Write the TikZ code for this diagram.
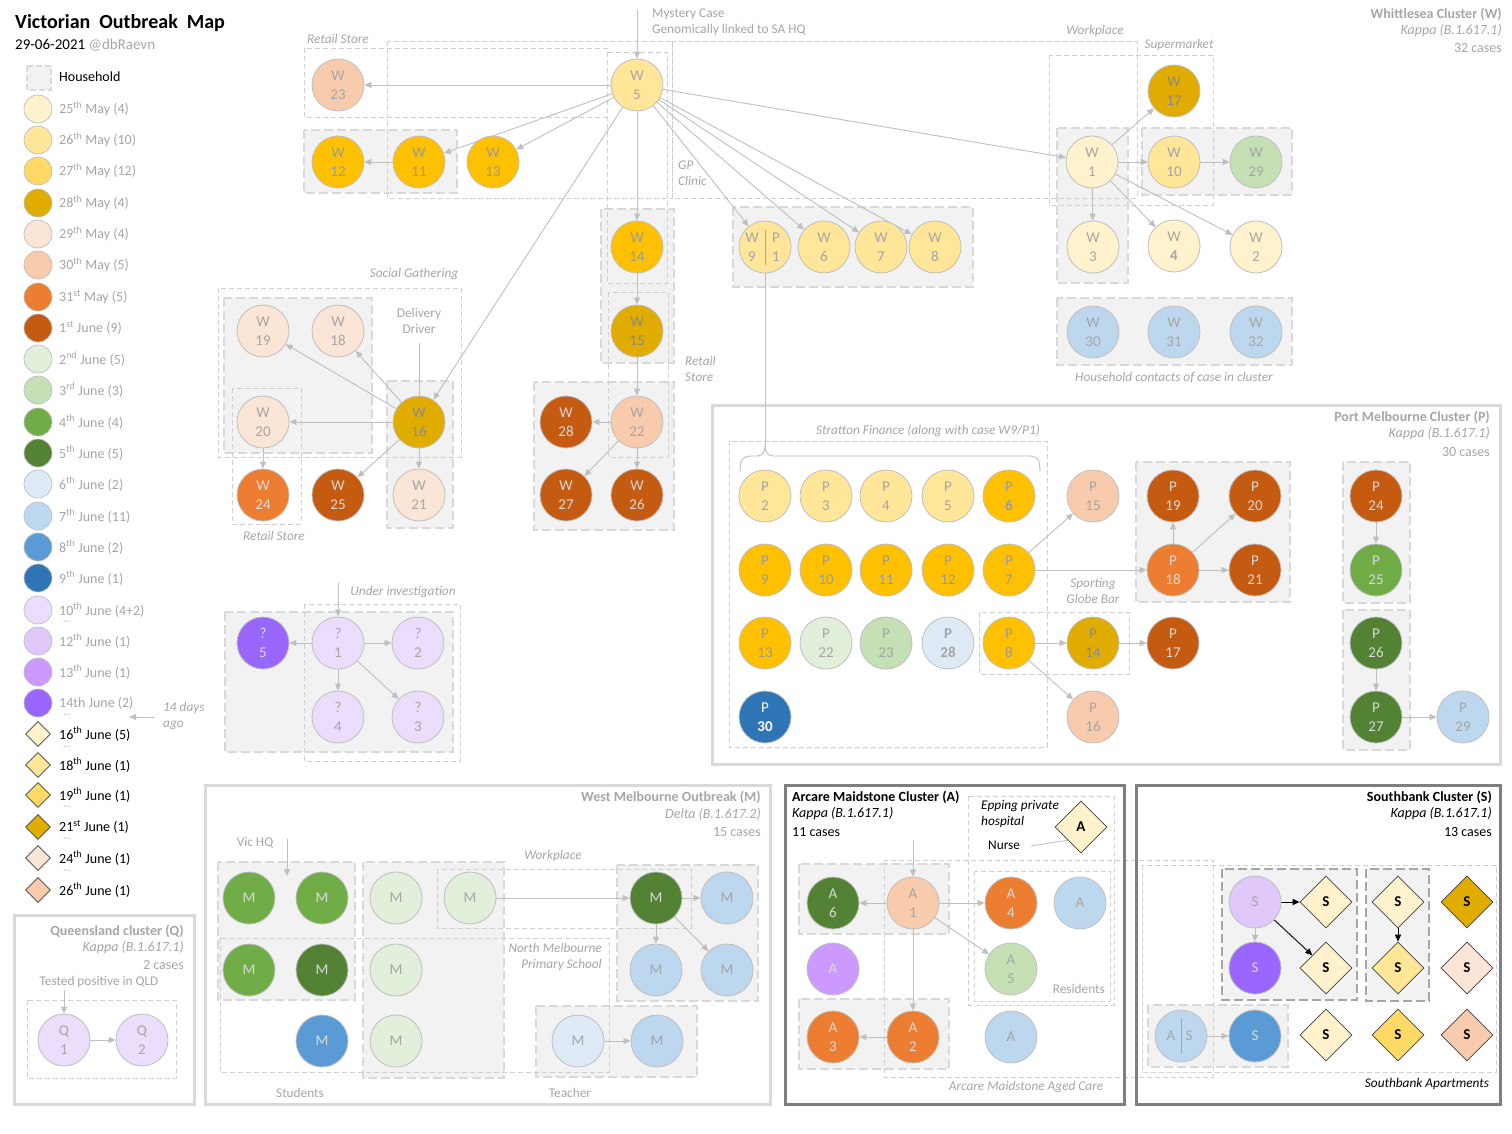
\documentclass[tikz,border=0pt]{standalone}
\usepackage{fontspec}
\setmainfont{Carlito}
\usetikzlibrary{arrows.meta,shapes.geometric}
\pgfdeclarelayer{bg}
\pgfdeclarelayer{ed}
\pgfsetlayers{bg,ed,main}
\definecolor{c25}{HTML}{FFF2CC}
\definecolor{c26}{HTML}{FFE699}
\definecolor{c27}{HTML}{FFD966}
\definecolor{c27b}{HTML}{FFC000}
\definecolor{c28}{HTML}{E0AC00}
\definecolor{c29}{HTML}{FBE5D6}
\definecolor{c30}{HTML}{F8CBAD}
\definecolor{c31}{HTML}{ED7D31}
\definecolor{j1}{HTML}{C55A11}
\definecolor{j2}{HTML}{E2EFDA}
\definecolor{j3}{HTML}{C5E0B4}
\definecolor{j4}{HTML}{70AD47}
\definecolor{j5}{HTML}{548235}
\definecolor{j6}{HTML}{DEEBF7}
\definecolor{j7}{HTML}{BDD7EE}
\definecolor{j8}{HTML}{5B9BD5}
\definecolor{j9}{HTML}{2E75B6}
\definecolor{j10}{HTML}{EBDDFC}
\definecolor{j12}{HTML}{E0C8FA}
\definecolor{j13}{HTML}{CC99FF}
\definecolor{j14}{HTML}{9966FF}
\definecolor{bdr}{HTML}{BFBFBF}
\definecolor{txt}{HTML}{A6A6A6}
\definecolor{txtg}{HTML}{9A9A9A}
\definecolor{txtd}{HTML}{8A8A8A}
\definecolor{hh}{HTML}{F2F2F2}
\definecolor{hhb}{HTML}{D9D9D9}
\definecolor{dsh}{HTML}{D0D0D0}
\definecolor{lab}{HTML}{A6A6A6}
\definecolor{darkb}{HTML}{7F7F7F}
\newcommand\myNF{\fontsize{15}{19}\selectfont}
\newcommand\myLF{\fontsize{13.3}{16.5}\selectfont}
\newcommand\myGF{\fontsize{14}{17}\selectfont}
\newcommand\myTF{\fontsize{14}{17}\selectfont}
\tikzset{
 cs/.style={circle,draw=bdr,line width=0.8pt,minimum size=52pt,inner sep=0pt,align=center,font=\myNF,text=txt},
 dk/.style={text=hhb},
 gd/.style={text=txtg},
 gdd/.style={text=txtd},
 dm/.style={diamond,draw=black!75,line width=0.7pt,minimum width=52pt,minimum height=52pt,inner sep=0pt,font=\myNF\bfseries,text=black},
 arr/.style={draw=bdr,line width=0.9pt,-{Triangle[width=6pt,length=7pt]}},
 barr/.style={draw=black,line width=0.9pt,-{Triangle[width=6pt,length=7pt]}},
 pln/.style={draw=bdr,line width=0.9pt},
 hbox/.style={fill=hh,draw=hhb,line width=2.5pt,dash pattern=on 9pt off 4pt},
 kbox2/.style={fill=hh,draw=txt,line width=2.5pt,dash pattern=on 9pt off 4pt},
 dbox/.style={draw=dsh,line width=0.8pt,dash pattern=on 5pt off 3pt},
 lbl/.style={font=\myLF\itshape,text=lab,inner sep=0pt},
 ulbl/.style={font=\myLF,text=lab,inner sep=0pt},
 cbox/.style={draw=hhb,line width=3pt},
 kbox/.style={draw=darkb,line width=3pt},
 lgc/.style={circle,draw=bdr,line width=0.7pt,minimum size=28pt,inner sep=0pt},
 lgd/.style={diamond,draw=black!75,line width=0.7pt,minimum width=25pt,minimum height=25pt,inner sep=0pt},
 lgt/.style={font=\myGF,text=lab,anchor=west,inner sep=0pt},
 ctit/.style={font=\myTF\bfseries,text=lab,inner sep=0pt},
 csub/.style={font=\myTF\itshape,text=lab,inner sep=0pt},
 ccas/.style={font=\myTF,text=lab,inner sep=0pt},
 dots/.style={font=\fontsize{10}{10}\selectfont,text=bdr,inner sep=0pt},
}
\begin{document}
\begin{tikzpicture}[x=1pt,y=-1pt]
\useasboundingbox (0,0) rectangle (1512,1134);

% ================= BACKGROUND BOXES =================
\begin{pgfonlayer}{bg}
\fill[white] (0,0) rectangle (1512,1134);
% household (filled) boxes
\draw[hbox] (304,130) rectangle (457,193);
\draw[hbox] (733,207) rectangle (973,287);
\draw[hbox] (1057,128) rectangle (1128,283);
\draw[hbox] (1142,128) rectangle (1292,195);
\draw[hbox] (1057,298) rectangle (1292,365);
\draw[hbox] (601,209) rectangle (674,363);
\draw[hbox] (534,382) rectangle (674,530);
\draw[hbox] (224,298) rectangle (372,453);
\draw[hbox] (387,381) rectangle (453,528);
\draw[hbox] (225,612) rectangle (453,752);
\draw[hbox] (1136,462) rectangle (1290,602);
\draw[hbox] (1343,462) rectangle (1410,603);
\draw[hbox] (1343,610) rectangle (1410,750);
\draw[hbox] (218,862) rectangle (355,1000);
\draw[hbox] (363,862) rectangle (504,1078);
\draw[hbox] (617,865) rectangle (758,1001);
\draw[hbox] (536,1006) rectangle (697,1077);
\draw[hbox] (799,864) rectangle (949,934);
\draw[hbox] (799,999) rectangle (949,1069);
\draw[hbox] (1148,1005) rectangle (1288,1067);
\draw[kbox2] (1222,869) rectangle (1357,1000);
\draw[kbox2] (1366,869) rectangle (1429,1001);
\draw[hbox,line width=2pt,dash pattern=on 6pt off 3pt] (27,66) rectangle (51,90);
% thin dashed boxes
\draw[dbox] (304,48) rectangle (607,117);
\draw[dbox] (387,41) rectangle (672,198);
\draw[dbox] (672,41) rectangle (1137,198);
\draw[dbox] (607,52) rectangle (667,283);
\draw[dbox] (1049,55) rectangle (1213,205);
\draw[dbox] (608,292) rectangle (668,457);
\draw[dbox] (218,288) rectangle (461,457);
\draw[dbox] (232,388) rectangle (301,524);
\draw[dbox] (304,604) rectangle (460,761);
\draw[dbox] (729,441) rectangle (1047,747);
\draw[dbox] (979,612) rectangle (1129,674);
\draw[dbox] (437,869) rectangle (691,928);
\draw[dbox] (220,938) rectangle (609,1072);
\draw[dbox] (968,796) rectangle (1114,1005);
\draw[dbox] (974,871) rectangle (1110,1001);
\draw[dbox] (884,860) rectangle (1213,1077);
\draw[dbox] (1142,865) rectangle (1496,1072);
\draw[dbox] (27,1000) rectangle (176,1078);
% cluster borders
\draw[cbox] (712,405) rectangle (1500,764);
\draw[cbox] (205,785) rectangle (770,1104);
\draw[cbox] (14,915) rectangle (194,1104);
\draw[kbox] (785,785) rectangle (1124,1104);
\draw[kbox] (1136,785) rectangle (1500,1104);
\end{pgfonlayer}

% ================= LEGEND =================
\node[anchor=west,inner sep=0pt,font=\fontsize{20}{24}\selectfont\bfseries] (title) at (15,23) {Victorian\ \ Outbreak\ \ Map};
\node[anchor=west,inner sep=0pt,font=\fontsize{15}{18}\selectfont] (date) at (15,45) {29-06-2021 \textcolor{lab}{@dbRaevn}};
\node[lgt,text=black] (hhl) at (59,77) {Household};
\foreach \myy/\myc/\myt in {
109/c25/{25\textsuperscript{th} May (4)},
140/c26/{26\textsuperscript{th} May (10)},
171/c27/{27\textsuperscript{th} May (12)},
203/c28/{28\textsuperscript{th} May (4)},
234/c29/{29\textsuperscript{th} May (4)},
265/c30/{30\textsuperscript{th} May (5)},
297/c31/{31\textsuperscript{st} May (5)},
328/j1/{1\textsuperscript{st} June (9)},
359/j2/{2\textsuperscript{nd} June (5)},
390/j3/{3\textsuperscript{rd} June (3)},
422/j4/{4\textsuperscript{th} June (4)},
453/j5/{5\textsuperscript{th} June (5)},
484/j6/{6\textsuperscript{th} June (2)},
516/j7/{7\textsuperscript{th} June (11)},
547/j8/{8\textsuperscript{th} June (2)},
578/j9/{9\textsuperscript{th} June (1)},
610/j10/{10\textsuperscript{th} June (4+2)},
641/j12/{12\textsuperscript{th} June (1)},
672/j13/{13\textsuperscript{th} June (1)},
703/j14/{14th June (2)}}
{\node[lgc,fill=\myc] (lc\myy) at (38,\myy) {}; \node[lgt] (lt\myy) at (59,\myy) {\myt};}
\foreach \myy/\myc/\myt in {
734/c25/{16\textsuperscript{th} June (5)},
765/c26/{18\textsuperscript{th} June (1)},
795/c27/{19\textsuperscript{th} June (1)},
827/c28/{21\textsuperscript{st} June (1)},
858/c29/{24\textsuperscript{th} June (1)},
890/c30/{26\textsuperscript{th} June (1)}}
{\node[lgd,fill=\myc] (ld\myy) at (38,\myy) {}; \node[lgt,text=black] (ldt\myy) at (59,\myy) {\myt};}
\foreach \myy in {623,716,748,808,840,872}
{\node[dots] (dt\myy) at (67,\myy) {···};}
\node[lbl,anchor=west,align=left] (days) at (163,716) {14 days\\ago};
\coordinate (da) at (155,717);
\coordinate (db) at (129,717);
\draw[arr] (da) -- (db);

% ================= WHITTLESEA =================
\node[ctit,anchor=east] (wt1) at (1502,14) {Whittlesea Cluster (W)};
\node[csub,anchor=east] (wt2) at (1502,31) {Kappa (B.1.617.1)};
\node[ccas,anchor=east] (wt3) at (1502,48) {32 cases};

\node[cs,fill=c30] (w23) at (338,85) {W\\23};
\node[cs,fill=c26] (w5) at (637,85) {W\\5};
\node[cs,fill=c27b,gd] (w12) at (338,162) {W\\12};
\node[cs,fill=c27b,gd] (w11) at (419,162) {W\\11};
\node[cs,fill=c27b,gd] (w13) at (493,162) {W\\13};
\node[cs,fill=c27b,gd] (w14) at (637,247) {W\\14};
\node[cs,fill=c28,gdd] (w15) at (637,331) {W\\15};
\node[cs,fill=c30] (w22) at (637,422) {W\\22};
\node[cs,fill=j1,dk] (w28) at (566,422) {W\\28};
\node[cs,fill=j1,dk] (w27) at (566,495) {W\\27};
\node[cs,fill=j1,dk] (w26) at (637,495) {W\\26};
\node[cs,fill=c26] (w9) at (765,247) {};
\node[font=\myNF,text=txt,align=center,inner sep=0pt] (w9a) at (752,247) {W\\9};
\node[font=\myNF,text=txt,align=center,inner sep=0pt] (w9b) at (776,247) {P\\1};
\draw[draw=txt,line width=0.8pt] (765,230) -- (765,265);
\node[cs,fill=c26] (w6) at (824,247) {W\\6};
\node[cs,fill=c26] (w7) at (881,247) {W\\7};
\node[cs,fill=c26] (w8) at (935,247) {W\\8};
\node[cs,fill=c25] (w1) at (1092,162) {W\\1};
\node[cs,fill=c28,gdd] (w17) at (1174,91) {W\\17};
\node[cs,fill=c26] (w10) at (1174,162) {W\\10};
\node[cs,fill=j3] (w29) at (1256,162) {W\\29};
\node[cs,fill=c25] (w3) at (1093,247) {W\\3};
\node[cs,fill=c25] (w4) at (1174,246) {W\\\textbf{4}};
\node[cs,fill=c25] (w2) at (1256,247) {W\\2};
\node[cs,fill=j7] (w30) at (1093,332) {W\\30};
\node[cs,fill=j7] (w31) at (1174,332) {W\\31};
\node[cs,fill=j7] (w32) at (1256,332) {W\\32};
\node[cs,fill=c29] (w19) at (263,331) {W\\19};
\node[cs,fill=c29] (w18) at (338,331) {W\\18};
\node[cs,fill=c29] (w20) at (263,422) {W\\20};
\node[cs,fill=c28,gdd] (w16) at (419,422) {W\\16};
\node[cs,fill=c31,dk] (w24) at (263,495) {W\\24};
\node[cs,fill=j1,dk] (w25) at (338,495) {W\\25};
\node[cs,fill=c29] (w21) at (419,495) {W\\21};

\node[lbl] (lrs1) at (338,39) {Retail Store};
\node[ulbl,anchor=west] (lmc1) at (652,14) {Mystery Case};
\node[ulbl,anchor=west] (lmc2) at (652,30) {Genomically linked to SA HQ};
\node[lbl,anchor=west,align=left] (lgp) at (678,173) {GP\\Clinic};
\node[lbl] (lwp) at (1095,31) {Workplace};
\node[lbl] (lsm) at (1179,45) {Supermarket};
\node[lbl] (lsg) at (414,274) {Social Gathering};
\node[ulbl,align=center] (ldd) at (419,321) {Delivery\\Driver};
\node[lbl,anchor=west,align=left] (lrs2) at (685,369) {Retail\\Store};
\node[lbl] (lrs3) at (274,536) {Retail Store};
\node[lbl] (lhc) at (1174,378) {Household contacts of case in cluster};

\coordinate (mc) at (637,10);
\coordinate (dd) at (419,343);
\begin{pgfonlayer}{ed}
\draw[arr] (mc) -- (w5);
\draw[arr] (w5) -- (w23);
\draw[arr] (w5) -- (w11);
\draw[arr] (w5) -- (w13);
\draw[arr] (w11) -- (w12);
\draw[arr] (w5) -- (w16);
\draw[arr] (w5) -- (w14);
\draw[arr] (w5) -- (w9);
\draw[arr] (w5) -- (w6);
\draw[arr] (w5) -- (w7);
\draw[arr] (w5) -- (w8);
\draw[arr] (w5) -- (w1);
\draw[arr] (w14) -- (w15);
\draw[arr] (w15) -- (w22);
\draw[arr] (w22) -- (w28);
\draw[arr] (w22) -- (w27);
\draw[arr] (w22) -- (w26);
\draw[arr] (w1) -- (w17);
\draw[arr] (w1) -- (w10);
\draw[arr] (w10) -- (w29);
\draw[arr] (w1) -- (w3);
\draw[arr] (w1) -- (w4);
\draw[arr] (w1) -- (w2);
\draw[pln] (dd) -- (w16);
\draw[arr] (w16) -- (w19);
\draw[arr] (w16) -- (w18);
\draw[arr] (w16) -- (w20);
\draw[arr] (w16) -- (w25);
\draw[arr] (w16) -- (w21);
\draw[arr] (w20) -- (w24);
\end{pgfonlayer}

% ================= UNDER INVESTIGATION =================
\node[cs,fill=j14,dk] (q5) at (263,643) {?\\5};
\node[cs,fill=j10] (q1) at (338,643) {?\\1};
\node[cs,fill=j10] (q2) at (418,643) {?\\2};
\node[cs,fill=j10] (q4) at (338,717) {?\\4};
\node[cs,fill=j10] (q3) at (418,717) {?\\3};
\node[lbl] (lui) at (403,592) {Under investigation};
\coordinate (ui) at (338,583);
\begin{pgfonlayer}{ed}
\draw[arr] (ui) -- (q1);
\draw[arr] (q1) -- (q5);
\draw[arr] (q1) -- (q2);
\draw[arr] (q1) -- (q4);
\draw[arr] (q1) -- (q3);
\end{pgfonlayer}

% ================= PORT MELBOURNE =================
\node[ctit,anchor=east] (pt1) at (1490,417) {Port Melbourne Cluster (P)};
\node[csub,anchor=east] (pt2) at (1490,434) {Kappa (B.1.617.1)};
\node[ccas,anchor=east] (pt3) at (1490,452) {30 cases};
\node[lbl] (lsf) at (928,431) {Stratton Finance (along with case W9/P1)};
\node[lbl,align=center] (lsgb) at (1093,591) {Sporting\\Globe Bar};

\node[cs,fill=c26] (p2) at (765,496) {P\\2};
\node[cs,fill=c26] (p3) at (826,496) {P\\3};
\node[cs,fill=c26] (p4) at (886,496) {P\\4};
\node[cs,fill=c26] (p5) at (948,496) {P\\5};
\node[cs,fill=c27b,gd] (p6) at (1009,496) {P\\\textbf{6}};
\node[cs,fill=c30] (p15) at (1093,496) {P\\15};
\node[cs,fill=j1,dk] (p19) at (1173,496) {P\\19};
\node[cs,fill=j1,dk] (p20) at (1255,496) {P\\20};
\node[cs,fill=j1,dk] (p24) at (1376,496) {P\\24};
\node[cs,fill=c27b,gd] (p9) at (765,570) {P\\9};
\node[cs,fill=c27b,gd] (p10) at (826,570) {P\\10};
\node[cs,fill=c27b,gd] (p11) at (886,570) {P\\11};
\node[cs,fill=c27b,gd] (p12) at (948,570) {P\\12};
\node[cs,fill=c27b,gd] (p7) at (1009,570) {P\\7};
\node[cs,fill=c31,dk] (p18) at (1173,570) {P\\18};
\node[cs,fill=j1,dk] (p21) at (1255,570) {P\\21};
\node[cs,fill=j4,dk] (p25) at (1376,570) {P\\25};
\node[cs,fill=c27b,gd] (p13) at (765,643) {P\\13};
\node[cs,fill=j2] (p22) at (826,643) {P\\22};
\node[cs,fill=j3] (p23) at (886,643) {P\\23};
\node[cs,fill=j6] (p28) at (948,643) {\textbf{P}\\\textbf{28}};
\node[cs,fill=c27b,gd] (p8) at (1009,643) {P\\8};
\node[cs,fill=c28,gdd] (p14) at (1093,643) {P\\14};
\node[cs,fill=j1,dk] (p17) at (1173,643) {P\\17};
\node[cs,fill=j5,dk] (p26) at (1376,643) {P\\26};
\node[cs,fill=j9,text=white] (p30) at (765,717) {P\\\textbf{30}};
\node[cs,fill=c30] (p16) at (1093,717) {P\\16};
\node[cs,fill=j5,dk] (p27) at (1376,717) {P\\27};
\node[cs,fill=j7] (p29) at (1463,717) {P\\29};

\coordinate (bt) at (765,446);
\begin{pgfonlayer}{ed}
\draw[pln] (w9) -- (bt);
\draw[pln] (740,472) .. controls (740,460) and (742,456) .. (752,456) -- (757,456) .. controls (762,456) and (765,452) .. (bt) .. controls (765,452) and (768,456) .. (773,456) -- (1029,456) .. controls (1038,456) and (1040,460) .. (1040,472);
\draw[arr] (p7) -- (p15);
\draw[arr] (p7) -- (p18);
\draw[arr] (p18) -- (p19);
\draw[arr] (p18) -- (p20);
\draw[arr] (p18) -- (p21);
\draw[arr] (p8) -- (p14);
\draw[arr] (p14) -- (p17);
\draw[arr] (p8) -- (p16);
\draw[arr] (p24) -- (p25);
\draw[arr] (p26) -- (p27);
\draw[arr] (p27) -- (p29);
\end{pgfonlayer}

% ================= QUEENSLAND =================
\node[ctit,anchor=east] (qt1) at (184,931) {Queensland cluster (Q)};
\node[csub,anchor=east] (qt2) at (184,948) {Kappa (B.1.617.1)};
\node[ccas,anchor=east] (qt3) at (184,965) {2 cases};
\node[ulbl] (ltq) at (99,982) {Tested positive in QLD};
\node[cs,fill=j10] (qq1) at (64,1040) {Q\\1};
\node[cs,fill=j10] (qq2) at (142,1040) {Q\\2};
\coordinate (tq) at (64,990);
\begin{pgfonlayer}{ed}
\draw[arr] (tq) -- (qq1);
\draw[arr] (qq1) -- (qq2);
\end{pgfonlayer}

% ================= WEST MELBOURNE =================
\node[ctit,anchor=east] (mt1) at (761,797) {West Melbourne Outbreak (M)};
\node[csub,anchor=east] (mt2) at (761,814) {Delta (B.1.617.2)};
\node[ccas,anchor=east] (mt3) at (761,832) {15 cases};
\node[ulbl] (lvh) at (255,843) {Vic HQ};
\node[lbl] (lwp2) at (553,856) {Workplace};
\node[lbl,anchor=east,align=right] (lnm) at (602,957) {North Melbourne\\Primary School};
\node[ulbl] (lst) at (300,1093) {Students};
\node[ulbl] (ltc) at (570,1093) {Teacher};

\node[cs,fill=j4,dk] (m1) at (249,898) {M};
\node[cs,fill=j4,dk] (m2) at (322,898) {M};
\node[cs,fill=j2] (m3) at (396,898) {M};
\node[cs,fill=j2] (m4) at (470,898) {M};
\node[cs,fill=j5,dk] (m5) at (656,898) {M};
\node[cs,fill=j7] (m6) at (727,898) {M};
\node[cs,fill=j4,dk] (m7) at (249,970) {M};
\node[cs,fill=j5,dk] (m8) at (322,970) {M};
\node[cs,fill=j2] (m9) at (396,970) {M};
\node[cs,fill=j7] (m10) at (656,970) {M};
\node[cs,fill=j7] (m11) at (727,970) {M};
\node[cs,fill=j8,dk] (m12) at (322,1041) {M};
\node[cs,fill=j2] (m13) at (396,1041) {M};
\node[cs,fill=j6] (m14) at (578,1041) {M};
\node[cs,fill=j7] (m15) at (657,1041) {M};
\coordinate (vh1) at (287,839);
\coordinate (vh2) at (287,876);
\begin{pgfonlayer}{ed}
\draw[arr] (vh1) -- (vh2);
\draw[arr] (m4) -- (m5);
\draw[arr] (m5) -- (m6);
\draw[arr] (m5) -- (m10);
\draw[arr] (m5) -- (m11);
\draw[arr] (m14) -- (m15);
\end{pgfonlayer}

% ================= ARCARE =================
\node[font=\myTF\bfseries,anchor=west,inner sep=0pt] (at1) at (792,797) {Arcare Maidstone Cluster (A)};
\node[font=\myTF\itshape,anchor=west,inner sep=0pt] (at2) at (792,814) {Kappa (B.1.617.1)};
\node[font=\myTF,anchor=west,inner sep=0pt] (at3) at (792,832) {11 cases};
\node[font=\myLF\itshape,anchor=west,align=left,inner sep=0pt] (lep) at (981,814) {Epping private\\hospital};
\node[font=\myLF,anchor=west,inner sep=0pt] (lnu) at (988,845) {Nurse};
\node[ulbl,anchor=east] (lres) at (1105,989) {Residents};
\node[lbl] (lamc) at (1026,1087) {Arcare Maidstone Aged Care};
\node[dm,fill=c25] (adia) at (1081,827) {A};
\node[cs,fill=j5,dk] (a6) at (833,903) {A\\6};
\node[cs,fill=c30] (a1) at (913,903) {A\\1};
\node[cs,fill=c31,dk] (a4) at (1011,903) {A\\4};
\node[cs,fill=j7] (ax1) at (1080,903) {A};
\node[cs,fill=j13,dk] (ax2) at (833,969) {A};
\node[cs,fill=j3] (a5) at (1011,969) {A\\5};
\node[cs,fill=c31,dk] (a3) at (833,1037) {A\\3};
\node[cs,fill=c31,dk] (a2) at (913,1037) {A\\2};
\node[cs,fill=j7] (ax3) at (1011,1037) {A};
\coordinate (atop) at (913,840);
\coordinate (nl) at (1031,846);
\begin{pgfonlayer}{ed}
\draw[draw=bdr,line width=0.8pt] (nl) -- (adia.south west);
\draw[arr] (atop) -- (a1);
\draw[arr] (a1) -- (a6);
\draw[arr] (a1) -- (a4);
\draw[arr] (a1) -- (a5);
\draw[arr] (a1) -- (a2);
\draw[arr] (a2) -- (a3);
\end{pgfonlayer}

% ================= SOUTHBANK =================
\node[font=\myTF\bfseries,anchor=east,inner sep=0pt] (st1) at (1492,797) {Southbank Cluster (S)};
\node[font=\myTF\itshape,anchor=east,inner sep=0pt] (st2) at (1492,814) {Kappa (B.1.617.1)};
\node[font=\myTF,anchor=east,inner sep=0pt] (st3) at (1492,832) {13 cases};
\node[font=\myLF\itshape,inner sep=0pt] (lsa) at (1427,1084) {Southbank Apartments};
\node[cs,fill=j12] (s1) at (1255,902) {S};
\node[cs,fill=j14,dk] (s2) at (1255,968) {S};
\node[cs,fill=j8,dk] (s3) at (1255,1036) {S};
\node[cs,fill=j7] (as) at (1181,1036) {};
\node[font=\myNF,text=txt,inner sep=0pt] (asa) at (1171,1036) {A};
\node[font=\myNF,text=txt,inner sep=0pt] (ass) at (1189,1036) {S};
\draw[draw=txt,line width=0.8pt] (1181,1018) -- (1181,1054);
\node[dm,fill=c25] (d1) at (1326,902) {S};
\node[dm,fill=c25] (d2) at (1326,968) {S};
\node[dm,fill=c25] (d3) at (1398,902) {S};
\node[dm,fill=c26] (d4) at (1398,968) {S};
\node[dm,fill=c28] (d5) at (1467,902) {S};
\node[dm,fill=c29] (d6) at (1467,968) {S};
\node[dm,fill=c25] (d7) at (1326,1035) {S};
\node[dm,fill=c27] (d8) at (1398,1035) {S};
\node[dm,fill=c30] (d9) at (1467,1035) {S};
\begin{pgfonlayer}{ed}
\draw[barr] (s1) -- (d1);
\draw[barr] (s1) -- (d2);
\draw[arr] (s1) -- (s2);
\draw[barr] (d3) -- (d4);
\draw[arr] (as) -- (s3);
\end{pgfonlayer}
\end{tikzpicture}
\end{document}
